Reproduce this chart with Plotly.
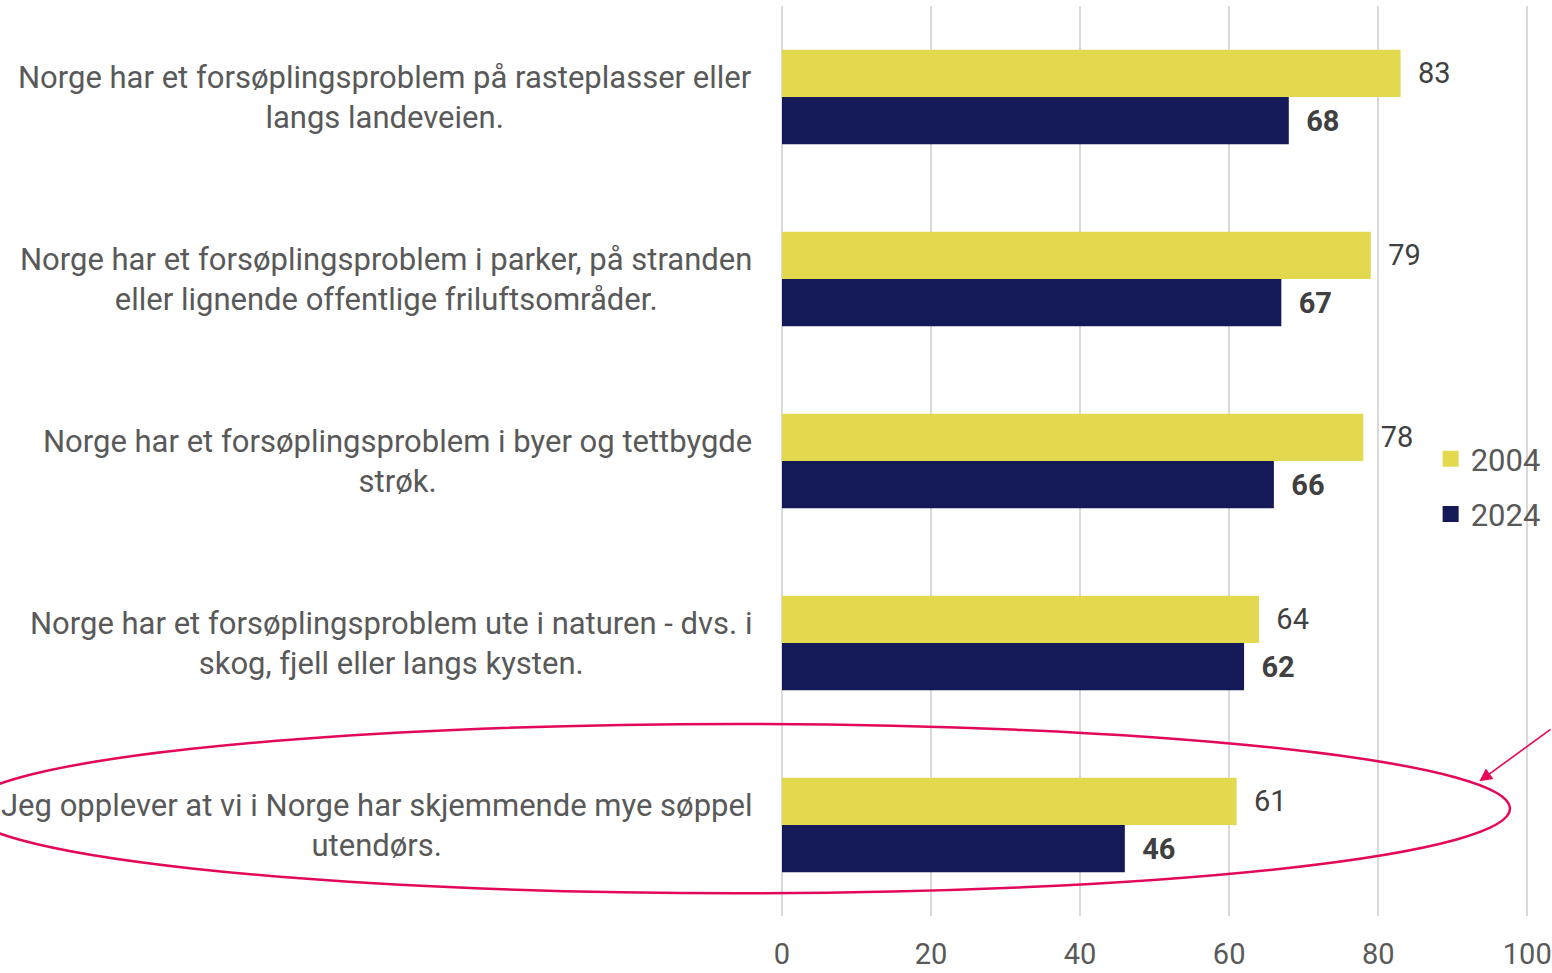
import plotly.graph_objects as go

categories = [
    "Norge har et forsøplingsproblem på rasteplasser eller<br>langs landeveien.",
    "Norge har et forsøplingsproblem i parker, på stranden<br>eller lignende offentlige friluftsområder.",
    "Norge har et forsøplingsproblem i byer og tettbygde<br>strøk.",
    "Norge har et forsøplingsproblem ute i naturen - dvs. i<br>skog, fjell eller langs kysten.",
    "Jeg opplever at vi i Norge har skjemmende mye søppel<br>utendørs.",
]
values_2004 = [83, 79, 78, 64, 61]
values_2024 = [68, 67, 66, 62, 46]
series_names = ["2004", "2024"]
x_ticks = [0, 20, 40, 60, 80, 100]

FONT = "Roboto"
YELLOW = "#E2D94F"
NAVY = "#131A57"
TEXT = "#595959"
LABEL = "#404040"
RED = "#E3085A"
NB = "\u00a0\u00a0"

fig = go.Figure()
fig.add_trace(go.Bar(
    y=categories, x=values_2004, name=series_names[0], orientation="h",
    marker=dict(color=YELLOW, line=dict(width=0)),
    text=[NB + str(v) for v in values_2004], textposition="outside",
    textfont=dict(family=FONT, size=29, color=LABEL),
    cliponaxis=False, showlegend=False, hoverinfo="skip",
))
fig.add_trace(go.Bar(
    y=categories, x=values_2024, name=series_names[1], orientation="h",
    marker=dict(color=NAVY, line=dict(width=0)),
    text=[NB + "<b>" + str(v) + "</b>" for v in values_2024], textposition="outside",
    textfont=dict(family=FONT, size=29, color=LABEL),
    cliponaxis=False, showlegend=False, hoverinfo="skip",
))

# Legend entries with larger square swatches
for name, col, grp in [(series_names[0], YELLOW, "a"), (series_names[1], NAVY, "b")]:
    fig.add_trace(go.Scatter(
        x=[None], y=[None], mode="markers", name=name, legendgroup=grp,
        marker=dict(symbol="square", size=18, color=col), hoverinfo="skip",
    ))

# Category labels as centred multi-line annotations
for c in categories:
    fig.add_annotation(
        x=0, xref="paper", y=c, yref="y", text=c, showarrow=False,
        xanchor="right", yanchor="middle", align="center", xshift=-28,
        font=dict(family=FONT, size=31, color=TEXT),
    )

# Highlight ellipse around the last statement
fig.add_shape(
    type="circle", xref="paper", yref="paper",
    x0=-1.09, x1=0.972, y0=0.025, y1=0.211,
    line=dict(color=RED, width=2.5), fillcolor="rgba(0,0,0,0)", layer="above",
)
fig.add_annotation(
    x=0.931, y=0.148, xref="paper", yref="paper", text="", showarrow=True,
    ax=80, ay=-53, axref="pixel", ayref="pixel",
    arrowhead=2, arrowsize=1.6, arrowwidth=1.6, arrowcolor=RED,
)

fig.update_layout(
    width=1552, height=973,
    margin=dict(l=782, r=21, t=6, b=57, autoexpand=False),
    paper_bgcolor="white", plot_bgcolor="white",
    barmode="group", bargap=0.48, bargroupgap=0,
    font=dict(family=FONT, size=30, color=TEXT),
    showlegend=True,
    legend=dict(
        x=0.866, y=0.472, xanchor="left", yanchor="middle",
        traceorder="grouped", tracegroupgap=12,
        font=dict(family=FONT, size=31, color=TEXT),
        bgcolor="rgba(0,0,0,0)",
    ),
    xaxis=dict(
        range=[0, 100.5], tickvals=x_ticks, ticktext=[str(t) for t in x_ticks],
        showgrid=True, gridcolor="#D9D9D9", gridwidth=2,
        zeroline=True, zerolinecolor="#D9D9D9", zerolinewidth=2,
        showline=False, ticks="", ticklabelstandoff=18, automargin=False,
        ticklabeloverflow="allow",
        tickfont=dict(family=FONT, size=29, color=TEXT),
    ),
    yaxis=dict(
        categoryorder="array", categoryarray=categories, autorange="reversed",
        showticklabels=False, showgrid=False, zeroline=False, showline=False,
        ticks="", automargin=False,
    ),
)

fig.write_html(
    "out.html",
    config={"displayModeBar": False},
    post_script="document.body.style.margin='0';document.body.style.overflow='hidden';",
)
